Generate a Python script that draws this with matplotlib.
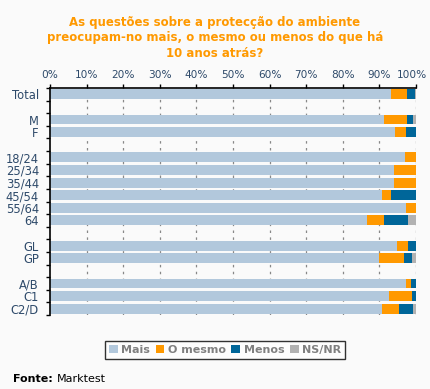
import numpy as np
import matplotlib
matplotlib.use("Agg")
import matplotlib.pyplot as plt
from matplotlib.transforms import ScaledTranslation

# row labels, top to bottom; "" = blank spacer slot
labels = ["Total", "", "M", "F", "", "18/24", "25/34", "35/44", "45/54", "55/64", "64",
          "", "GL", "GP", "", "A/B", "C1", "C2/D"]
mais    = [93.2, 0, 91.3, 94.3, 0, 97.0, 94.0, 94.0, 90.7, 97.3, 86.6, 0, 94.8, 89.9, 0, 97.3, 92.6, 90.7]
o_mesmo = [4.3, 0, 6.2, 3.0, 0, 3.0, 6.0, 6.0, 2.5, 2.7, 4.7, 0, 3.0, 6.8, 0, 1.3, 6.3, 4.7]
menos   = [2.2, 0, 1.7, 2.7, 0, 0.0, 0.0, 0.0, 6.8, 0.0, 6.5, 0, 2.2, 2.2, 0, 1.4, 1.1, 3.8]
ns_nr   = [0.3, 0, 0.8, 0.0, 0, 0.0, 0.0, 0.0, 0.0, 0.0, 2.2, 0, 0.0, 1.1, 0, 0.0, 0.0, 0.8]

series = [("Mais", mais, "#b2c8dc"), ("O mesmo", o_mesmo, "#ff9900"),
          ("Menos", menos, "#006699"), ("NS/NR", ns_nr, "#b2b2b2")]

bg = "#fafafa"
txt = "#2e4a6a"

fig = plt.figure(figsize=(4.3, 3.89), dpi=100, facecolor=bg)
ax = fig.add_axes([50 / 430, 1 - 315 / 389, 366 / 430, 227 / 389], facecolor=bg)

y = np.arange(len(labels))
left = np.zeros(len(labels))
handles = []
for name, vals, col in series:
    v = np.array(vals)
    h = ax.barh(y, v, left=left, height=0.78, color=col, edgecolor="none", label=name, zorder=2)
    handles.append(h)
    left += v

ax.set_xlim(0, 100)
ax.set_ylim(len(labels) - 0.5, -0.5)

ax.xaxis.tick_top()
ax.set_xticks(np.arange(0, 101, 10))
ax.set_xticklabels([f"{t}%" for t in range(0, 101, 10)], fontsize=7.6, color=txt)
ax.tick_params(axis="x", length=3, width=1, color="black", pad=3)
# nudge the "100%" label so it stays inside the figure
last = ax.xaxis.get_major_ticks()[-1].label2
last.set_transform(last.get_transform() + ScaledTranslation(-3 / 72, 0, fig.dpi_scale_trans))

ax.set_yticks(y)
ax.set_yticklabels(labels, fontsize=8.3, color=txt)
ax.set_yticks(np.arange(-0.5, len(labels), 1), minor=True)
ax.tick_params(axis="y", which="major", length=0, pad=8)
ax.tick_params(axis="y", which="minor", length=3, width=1, color="black")

for xv in range(10, 101, 10):
    ax.axvline(xv, color="#888888", linewidth=0.9, linestyle=(0, (2, 3.5)), zorder=1)

for s in ["right", "bottom"]:
    ax.spines[s].set_visible(False)
ax.spines["top"].set_linewidth(1.2)
ax.spines["left"].set_linewidth(1.2)

fig.text(0.5, 1 - 38 / 389,
         "As questões sobre a protecção do ambiente\npreocupam-no mais, o mesmo ou menos do que há\n10 anos atrás?",
         ha="center", va="center", fontsize=8.5, fontweight="bold", color="#ff9900", linespacing=1.25)

leg = fig.legend(handles=handles, loc="center", bbox_to_anchor=(225 / 430, 1 - 350 / 389),
                 ncol=4, fontsize=8, frameon=True, fancybox=False, handlelength=0.8,
                 handleheight=0.8, handletextpad=0.3, columnspacing=0.5, borderpad=0.35)
leg.get_frame().set_edgecolor("black")
leg.get_frame().set_linewidth(1.0)
leg.get_frame().set_facecolor("white")
for t in leg.get_texts():
    t.set_color("#808080")
    t.set_fontweight("bold")

fig.text(13 / 430, 1 - 379 / 389, "Fonte:", fontsize=8, fontweight="bold", va="center", ha="left")
fig.text(57 / 430, 1 - 379 / 389, "Marktest", fontsize=8, va="center", ha="left")

fig.savefig("out.png", dpi=100, facecolor=bg)
